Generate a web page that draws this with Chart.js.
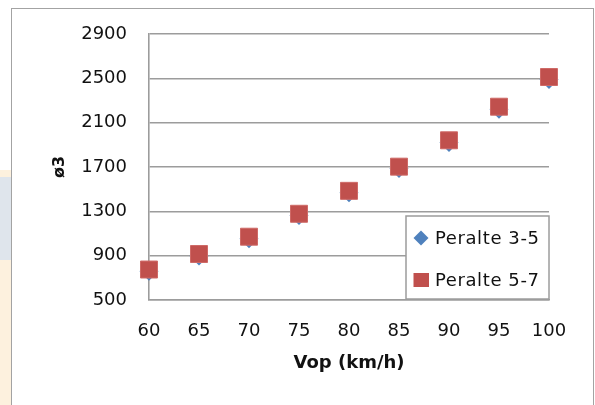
<!DOCTYPE html>
<html>
<head>
<meta charset="utf-8">
<script src="https://cdn.jsdelivr.net/npm/chart.js@4.4.1/dist/chart.umd.min.js"></script>
<style>
  html, body { margin: 0; padding: 0; background: #ffffff; }
  #wrap { position: relative; width: 595px; height: 405px; overflow: hidden; }
  .strip { position: absolute; left: 0; width: 11px; }
  #frame { position: absolute; left: 11px; top: 8px; width: 581px; height: 420px;
           border: 1.5px solid #a3a3a3; background: #ffffff; }
  #c { position: absolute; left: 0; top: 0; }
</style>
</head>
<body>
<div id="wrap">
  <div class="strip" style="top:170px;height:7px;background:#fdf1de"></div>
  <div class="strip" style="top:177px;height:83px;background:#dfe5ec"></div>
  <div class="strip" style="top:260px;height:145px;background:#fdf1de"></div>
  <div id="frame"></div>
  <canvas id="c" width="595" height="405"></canvas>
</div>
<script>
const categories = [60, 65, 70, 75, 80, 85, 90, 95, 100];
const peralte35 = [760, 898, 1052, 1262, 1468, 1686, 1922, 2222, 2490];
const peralte57 = [775, 915, 1071, 1278, 1485, 1703, 1941, 2244, 2512];
const seriesNames = ['Peralte 3-5', 'Peralte 5-7'];
const yTicks = [500, 900, 1300, 1700, 2100, 2500, 2900];
const xTitle = 'Vop (km/h)';
const yTitle = 'ø3';

const BLUE = '#4f81bd';
const RED = '#c0504d';
const GRID = '#9c9c9c';
const FONT = 'DejaVu Sans';

const toPts = (vals) => categories.map((x, i) => ({ x: x, y: vals[i] }));

const legendPlugin = {
  id: 'insideLegend',
  afterDraw(chart) {
    const ctx = chart.ctx;
    const a = chart.chartArea;
    const bx = a.right - 143, by = a.bottom - 84, bw = 143, bh = 83;
    ctx.save();
    ctx.fillStyle = '#ffffff';
    ctx.fillRect(bx, by, bw, bh);
    ctx.strokeStyle = GRID;
    ctx.lineWidth = 1.5;
    ctx.strokeRect(bx, by, bw, bh);
    const items = [
      { text: seriesNames[0], color: BLUE, shape: 'diamond', y: by + 22 },
      { text: seriesNames[1], color: RED, shape: 'square', y: by + 64 }
    ];
    ctx.font = '18px "' + FONT + '"';
    ctx.textBaseline = 'middle';
    ctx.textAlign = 'left';
    items.forEach(it => {
      const mx = bx + 15;
      ctx.fillStyle = it.color;
      ctx.beginPath();
      if (it.shape === 'diamond') {
        ctx.moveTo(mx, it.y - 7.5);
        ctx.lineTo(mx + 7.5, it.y);
        ctx.lineTo(mx, it.y + 7.5);
        ctx.lineTo(mx - 7.5, it.y);
        ctx.closePath();
        ctx.fill();
      } else {
        ctx.fillRect(mx - 7.5, it.y - 7, 15.5, 14);
      }
      ctx.fillStyle = '#111111';
      if ('letterSpacing' in ctx) ctx.letterSpacing = '0.6px';
      ctx.fillText(it.text, bx + 29, it.y + 1);
    });
    ctx.restore();
  }
};

new Chart(document.getElementById('c'), {
  type: 'scatter',
  data: {
    datasets: [
      {
        label: seriesNames[0],
        data: toPts(peralte35),
        order: 1,
        clip: false,
        pointStyle: 'rectRot',
        pointRadius: 9.5,
        pointHoverRadius: 9.5,
        backgroundColor: BLUE,
        borderColor: BLUE,
        borderWidth: 0
      },
      {
        label: seriesNames[1],
        data: toPts(peralte57),
        order: 0,
        clip: false,
        pointStyle: 'rect',
        pointRadius: 12,
        pointHoverRadius: 12,
        backgroundColor: RED,
        borderColor: '#cf6a67',
        borderWidth: 1
      }
    ]
  },
  options: {
    responsive: false,
    animation: false,
    events: [],
    layout: { padding: { left: 0, top: 34, right: 46, bottom: 0 } },
    plugins: {
      legend: { display: false },
      tooltip: { enabled: false },
      title: { display: false }
    },
    scales: {
      x: {
        type: 'linear',
        min: 60,
        max: 100,
        afterBuildTicks(scale) { scale.ticks = categories.map(v => ({ value: v })); },
        afterFit(scale) { scale.height = 105; },
        grid: { display: false, drawTicks: false },
        border: { display: true, color: GRID, width: 1.6 },
        ticks: {
          padding: 21,
          color: '#111111',
          font: { family: FONT, size: 18, lineHeight: 1.2 },
          maxRotation: 0,
          autoSkip: false,
          callback: (v) => String(v)
        },
        title: {
          display: true,
          text: xTitle,
          color: '#111111',
          font: { family: FONT, size: 18, weight: 'bold', lineHeight: 1.2 },
          padding: { top: 0, bottom: 31 }
        }
      },
      y: {
        type: 'linear',
        min: 500,
        max: 2900,
        afterBuildTicks(scale) { scale.ticks = yTicks.map(v => ({ value: v })); },
        afterFit(scale) { scale.width = 149; },
        grid: { display: true, drawTicks: false, color: GRID, lineWidth: 1.6 },
        border: { display: true, color: GRID, width: 1.6 },
        ticks: {
          padding: 22,
          color: '#111111',
          font: { family: FONT, size: 18, lineHeight: 1.2 },
          autoSkip: false,
          callback: (v) => String(v)
        },
        title: {
          display: true,
          text: yTitle,
          color: '#111111',
          font: { family: FONT, size: 16, weight: 'bold', lineHeight: 1.2 },
          padding: { top: 50, bottom: 0 }
        }
      }
    }
  },
  plugins: [legendPlugin]
});
</script>
</body>
</html>
